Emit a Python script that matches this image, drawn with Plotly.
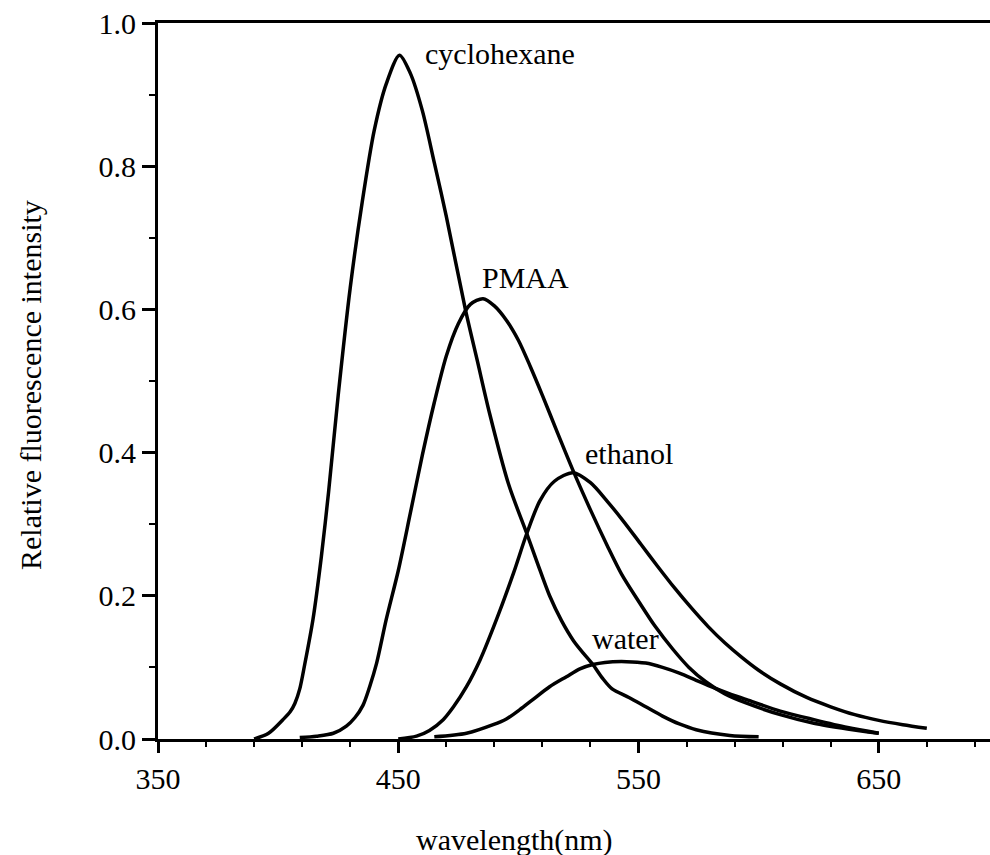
import plotly.graph_objects as go

# ---- data ----
cyc_x = [390, 396, 402, 405, 407, 409, 411, 414.5, 418, 421, 425, 430, 435, 440, 445, 450.5, 455, 460, 465, 470, 478, 483, 488, 496, 503.5, 508, 513, 518, 523, 527, 531, 535, 539, 546, 553, 560, 567, 574, 588, 600]
cyc_y = [0, 0.008, 0.027, 0.038, 0.05, 0.07, 0.103, 0.167, 0.255, 0.345, 0.48, 0.63, 0.75, 0.85, 0.915, 0.955, 0.93, 0.878, 0.805, 0.73, 0.599, 0.527, 0.455, 0.355, 0.287, 0.245, 0.2, 0.165, 0.137, 0.12, 0.104, 0.085, 0.07, 0.058, 0.045, 0.032, 0.021, 0.013, 0.005, 0.003]

pm_x = [409, 416, 423, 428.4, 432, 435.3, 438, 441, 445, 450, 455, 460, 465, 470, 475, 480, 485.3, 490, 495, 500, 505, 510, 516, 523, 530, 537, 543, 550.5, 557, 564.4, 571, 578, 586, 595, 609, 623, 637, 650]
pm_y = [0.002, 0.004, 0.008, 0.018, 0.03, 0.047, 0.072, 0.106, 0.167, 0.235, 0.315, 0.396, 0.47, 0.535, 0.58, 0.607, 0.615, 0.605, 0.585, 0.557, 0.52, 0.48, 0.43, 0.373, 0.32, 0.27, 0.23, 0.19, 0.157, 0.125, 0.1, 0.08, 0.063, 0.05, 0.034, 0.022, 0.014, 0.008]

et_x = [450, 457.6, 463, 468.7, 473, 478.4, 484, 490.9, 498, 503.5, 509, 515, 522.8, 530, 537, 544, 551, 558, 565, 572, 579, 586, 593, 600, 609, 620, 630, 640, 650, 660, 670]
et_y = [0, 0.004, 0.012, 0.027, 0.045, 0.073, 0.11, 0.167, 0.232, 0.287, 0.333, 0.36, 0.372, 0.358, 0.332, 0.303, 0.272, 0.241, 0.211, 0.183, 0.157, 0.134, 0.114, 0.096, 0.077, 0.058, 0.045, 0.034, 0.026, 0.02, 0.015]

wa_x = [465, 478.4, 489.5, 495, 500.6, 506, 513, 520, 525.6, 531, 536, 545, 553, 560, 567, 574, 581, 588, 595, 609, 623, 637, 650]
wa_y = [0.003, 0.008, 0.02, 0.028, 0.041, 0.055, 0.073, 0.087, 0.098, 0.104, 0.107, 0.108, 0.106, 0.1, 0.092, 0.082, 0.072, 0.063, 0.055, 0.039, 0.027, 0.016, 0.008]

labels = ["cyclohexane", "PMAA", "ethanol", "water"]
label_x = [460.3, 484, 526.7, 530]
label_y = [0.958, 0.644, 0.399, 0.141]

x_ticks = [350, 450, 550, 650]
y_ticks = [0.0, 0.2, 0.4, 0.6, 0.8, 1.0]

x_title = "wavelength(nm)"
y_title = "Relative fluorescence intensity"

FONT = "Liberation Serif"
FS = 30

W, H = 990, 855
ML, MR, MT, MB = 158, 0, 23, 116
plot_w = W - ML - MR
plot_h = H - MT - MB

fig = go.Figure()
for xs, ys, name in [(cyc_x, cyc_y, labels[0]), (pm_x, pm_y, labels[1]),
                     (et_x, et_y, labels[2]), (wa_x, wa_y, labels[3])]:
    fig.add_trace(go.Scatter(x=xs, y=ys, mode="lines", name=name,
                             line=dict(color="black", width=3.5, shape="spline", smoothing=0.8)))

for t, lx, ly in zip(labels, label_x, label_y):
    fig.add_annotation(x=lx, y=ly, xref="x", yref="y", text=t, showarrow=False,
                       xanchor="left", yanchor="middle",
                       font=dict(family=FONT, size=FS, color="black"))

# axis titles placed at the reference pixel positions
fig.add_annotation(x=(514 - ML) / plot_w, y=-(840 - (H - MB)) / plot_h,
                   xref="paper", yref="paper", text=x_title, showarrow=False,
                   xanchor="center", yanchor="middle",
                   font=dict(family=FONT, size=FS, color="black"))
fig.add_annotation(x=(30 - ML) / plot_w, y=((H - MB) - 385) / plot_h,
                   xref="paper", yref="paper", text=y_title, showarrow=False,
                   textangle=-90, xanchor="center", yanchor="middle",
                   font=dict(family=FONT, size=FS, color="black"))

fig.update_layout(
    width=W, height=H,
    margin=dict(l=ML, r=MR, t=MT, b=MB, autoexpand=False),
    paper_bgcolor="white", plot_bgcolor="white",
    showlegend=False,
    font=dict(family=FONT, size=FS, color="black"),
)
fig.update_xaxes(
    range=[350, 696.3], showgrid=False, zeroline=False,
    showline=True, linecolor="black", linewidth=3, mirror=True,
    tickmode="array", tickvals=x_ticks, ticktext=[str(v) for v in x_ticks],
    ticks="outside", ticklen=11, tickwidth=3, tickcolor="black",
    minor=dict(dtick=20, tick0=350, ticks="outside", ticklen=5, tickwidth=2, tickcolor="black"),
    tickfont=dict(family=FONT, size=FS, color="black"),
)
fig.update_yaxes(
    range=[0, 1.0], showgrid=False, zeroline=False,
    showline=True, linecolor="black", linewidth=3,
    tickmode="array", tickvals=y_ticks, ticktext=[f"{v:.1f}" for v in y_ticks],
    ticks="outside", ticklen=13, tickwidth=3, tickcolor="black",
    minor=dict(dtick=0.1, ticks="outside", ticklen=6, tickwidth=2, tickcolor="black"),
    tickfont=dict(family=FONT, size=FS, color="black"),
)

fig.write_html("out.html")
